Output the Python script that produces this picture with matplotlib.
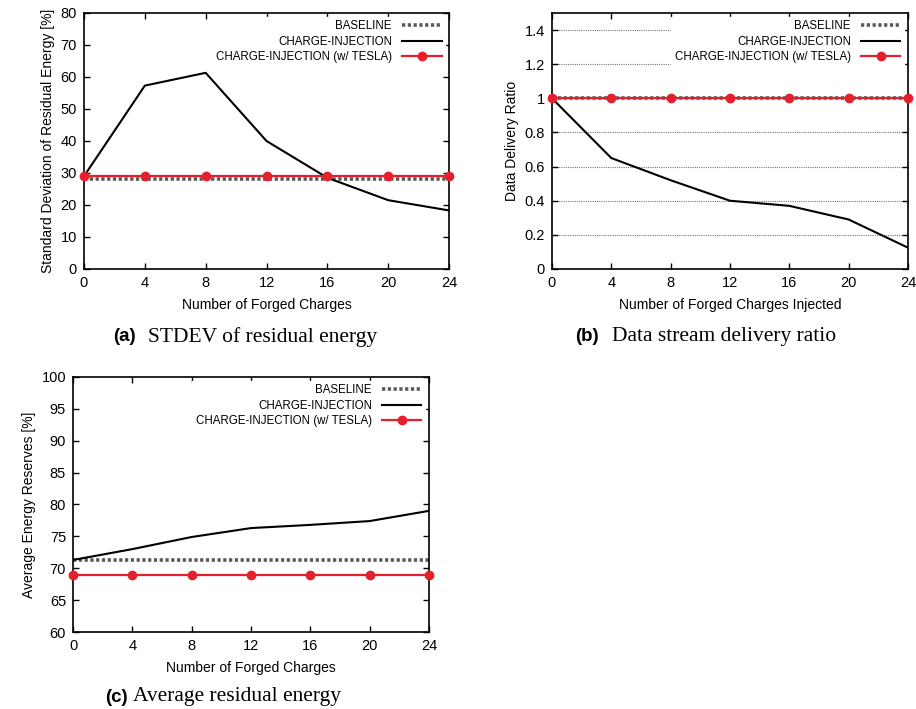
##------IMPORTING LIBRARIES--------------------------------------------
import matplotlib
matplotlib.use("Agg")
import matplotlib.pyplot as plt

plt.rcParams['font.family'] = ['Liberation Sans', 'DejaVu Sans']

##------DATA-----------------------------------------------------------
forged = [0, 4, 8, 12, 16, 20, 24]

# (a) stdev of residual energy [%]
stdev_baseline = [28.2] * 7
stdev_inject = [29.0, 57.3, 61.3, 40.0, 28.5, 21.5, 18.3]
stdev_tesla = [29.2] * 7

# (b) data delivery ratio
ddr_baseline = [1.0] * 7
ddr_inject = [1.0, 0.65, 0.52, 0.40, 0.37, 0.29, 0.125]
ddr_tesla = [1.0] * 7

# (c) average energy reserves [%]
avg_baseline = [71.3] * 7
avg_inject = [71.3, 73.0, 74.9, 76.3, 76.8, 77.4, 79.0]
avg_tesla = [69.0] * 7

labels = ['BASELINE', 'CHARGE-INJECTION', 'CHARGE-INJECTION (w/ TESLA)']

RED = '#e3202b'
GREY = '#5a5a5a'


##------HELPER---------------------------------------------------------
def draw_panel(ax, base, inj, tesla, ylim, yticks, yticklabels, xlabel, ylabel):
    ax.plot(forged, base, color=GREY, linewidth=2.6, dashes=(0.9, 0.7), label=labels[0], zorder=2)
    ax.plot(forged, inj, color='black', linewidth=1.5, label=labels[1], zorder=3)
    ax.plot(forged, tesla, color=RED, linewidth=1.6, marker='o', markersize=6,
            label=labels[2], zorder=4, clip_on=False)
    ax.set_xlim(0, 24)
    ax.set_ylim(*ylim)
    ax.set_xticks(forged)
    ax.set_yticks(yticks)
    ax.set_yticklabels(yticklabels)
    ax.tick_params(direction='in', top=True, right=True, length=4, width=1,
                   labelsize=10.5, pad=5)
    for s in ax.spines.values():
        s.set_linewidth(1.2)
    ax.set_xlabel(xlabel, fontsize=10, labelpad=6)
    ax.set_ylabel(ylabel, fontsize=10, labelpad=4)
    leg = ax.legend(loc='upper right', markerfirst=False, fontsize=8.3,
                    handlelength=3.4, handletextpad=0.9, labelspacing=0.3,
                    borderaxespad=0.35, borderpad=0.3, frameon=True,
                    fancybox=False, framealpha=1, edgecolor='white')
    for t in leg.get_texts():
        t.set_ha('right')
    return leg


fig = plt.figure(figsize=(9.16, 7.09), dpi=100)

##------PANEL (a)------------------------------------------------------
ax1 = fig.add_axes([0.0917, 0.6206, 0.3985, 0.3611])
draw_panel(ax1, stdev_baseline, stdev_inject, stdev_tesla, (0, 80),
           list(range(0, 81, 10)), [str(v) for v in range(0, 81, 10)],
           'Number of Forged Charges', 'Standard Deviation of Residual Energy [%]')

##------PANEL (b)------------------------------------------------------
ax2 = fig.add_axes([0.6026, 0.6206, 0.3886, 0.3611])
ddr_ticks = [0, 0.2, 0.4, 0.6, 0.8, 1.0, 1.2, 1.4]
draw_panel(ax2, ddr_baseline, ddr_inject, ddr_tesla, (0, 1.5),
           ddr_ticks, ['0', '0.2', '0.4', '0.6', '0.8', '1', '1.2', '1.4'],
           'Number of Forged Charges Injected', 'Data Delivery Ratio')
ax2.yaxis.grid(True, linestyle=(0, (1, 1)), color='#777777', linewidth=0.8)
ax2.set_axisbelow(True)

##------PANEL (c)------------------------------------------------------
ax3 = fig.add_axes([0.0797, 0.1086, 0.3886, 0.3597])
draw_panel(ax3, avg_baseline, avg_inject, avg_tesla, (60, 100),
           list(range(60, 101, 5)), [str(v) for v in range(60, 101, 5)],
           'Number of Forged Charges', 'Average Energy Reserves [%]')

##------CAPTIONS-------------------------------------------------------
def caption(x_tag, x_text, y, tag, text):
    fig.text(x_tag / 916, 1 - y / 709, tag, fontsize=13.5, fontweight='bold',
             ha='left', va='center', family=['Liberation Sans', 'DejaVu Sans'])
    fig.text(x_text / 916, 1 - y / 709, text, fontsize=15.5, ha='left', va='center',
             family=['Liberation Serif', 'DejaVu Serif'])

caption(113, 148, 337, '(a)', 'STDEV of residual energy')
caption(575, 612, 337, '(b)', 'Data stream delivery ratio')
caption(105, 133, 697, '(c)', 'Average residual energy')

fig.savefig('out.png', dpi=100)
